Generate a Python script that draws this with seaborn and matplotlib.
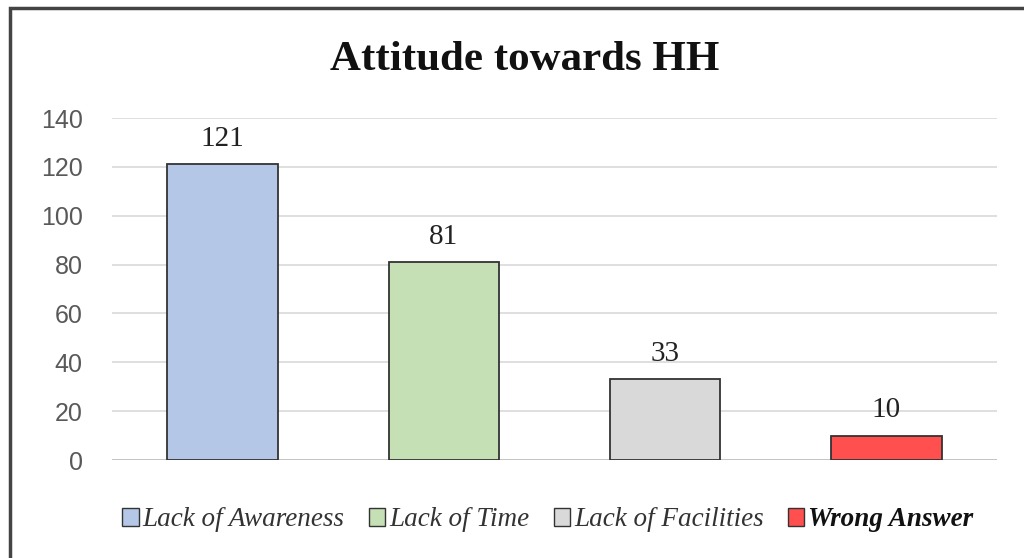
import matplotlib
matplotlib.use("Agg")
import matplotlib.pyplot as plt
import seaborn as sns
import pandas as pd
from matplotlib.patches import Patch, Rectangle

categories = ["Lack of Awareness", "Lack of Time", "Lack of Facilities", "Wrong Answer"]
values = [121, 81, 33, 10]
colors = ["#b4c7e7", "#c5e0b4", "#d9d9d9", "#ff4f4f"]
yticks = [0, 20, 40, 60, 80, 100, 120, 140]

sns.set_theme(style="white")
plt.rcParams['font.family'] = ['Liberation Serif', 'DejaVu Serif']

df = pd.DataFrame({"cat": categories, "val": values})

fig = plt.figure(figsize=(10.24, 5.58), dpi=100)
ax = fig.add_axes([112/1024, 1-460/558, (997-112)/1024, (460-118)/558])

sns.barplot(data=df, x="cat", y="val", hue="cat", palette=colors, legend=False,
            saturation=1, width=0.5, edgecolor="#333333", linewidth=1.3, ax=ax, zorder=3)

ax.set_xlim(-0.5, 3.5)
ax.set_ylim(0, 140)
ax.set_yticks(yticks)
ax.set_yticklabels([str(t) for t in yticks], family=['Liberation Sans', 'DejaVu Sans'],
                   fontsize=18, color="#595959")
ax.tick_params(axis='y', length=0, pad=21)
ax.set_xticks([])
ax.set_xlabel("")
ax.set_ylabel("")
ax.grid(axis='y', color="#d9d9d9", linewidth=1.2, zorder=0)
for s in ax.spines.values():
    s.set_visible(False)
ax.axhline(0, color="#bfbfbf", linewidth=1.2, zorder=1)

for i, v in enumerate(values):
    ax.text(i, v + 5, str(v), ha='center', va='bottom', fontsize=21, color="#222222")

fig.text(0.512, 1-60/558, "Attitude towards HH", ha='center', va='center',
         fontsize=31, fontweight='bold', color="#111111")

handles = [Patch(facecolor=c, edgecolor="#333333", linewidth=1.0) for c in colors]
leg = fig.legend(handles, categories, loc='center', bbox_to_anchor=(0.535, 1-520/558),
                 ncol=4, frameon=False, handlelength=0.6, handleheight=0.6,
                 handletextpad=0.15, columnspacing=0.9,
                 prop={'family': 'Liberation Serif', 'style': 'italic', 'size': 19.5})
for i, t in enumerate(leg.get_texts()):
    t.set_color("#333333")
    if i == 3:
        t.set_fontweight('bold')
        t.set_color("#111111")

fig.patches.append(Rectangle((10/1024, -0.05), 1.2, 1-8/558 + 0.05, transform=fig.transFigure,
                             fill=False, edgecolor="#444444", linewidth=2.5, figure=fig))

fig.savefig("out.png", dpi=100)
